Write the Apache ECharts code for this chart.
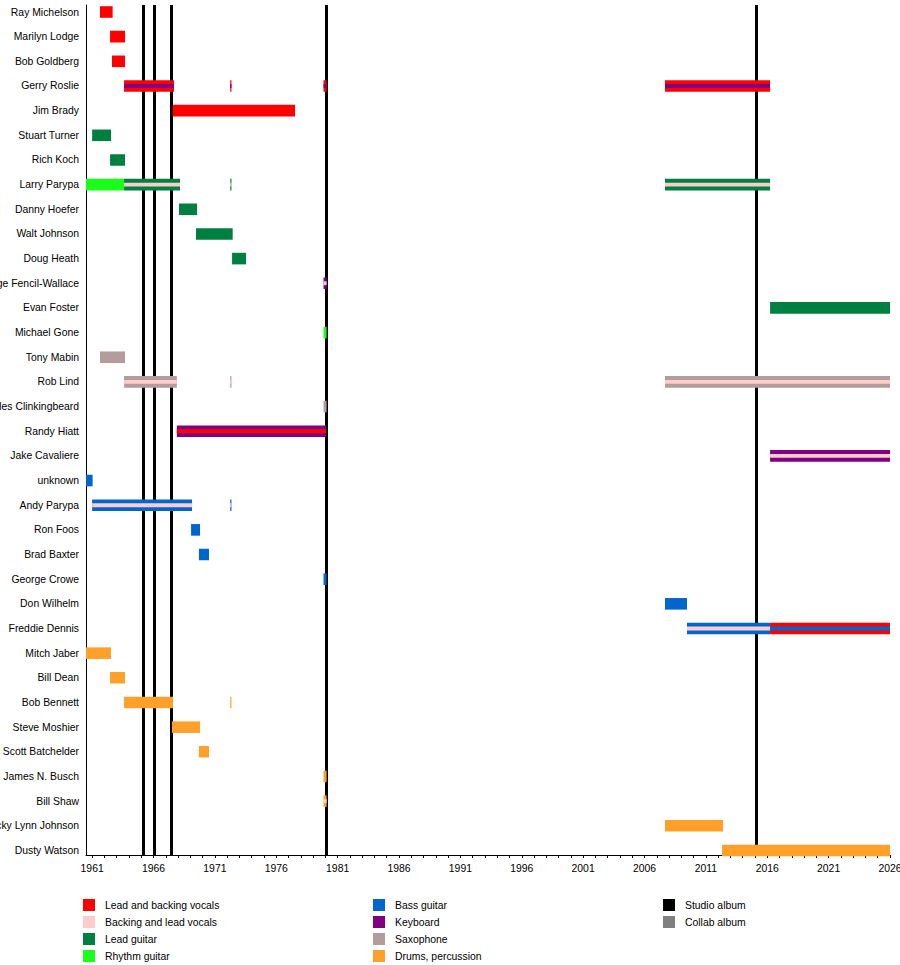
<!DOCTYPE html>
<html>
<head>
<meta charset="utf-8">
<title>The Sonics timeline</title>
<script src="https://cdn.jsdelivr.net/npm/echarts@6/dist/echarts.min.js"></script>
<style>
  html, body { margin: 0; padding: 0; background: #fff; }
  #chart { width: 900px; height: 965px; }
</style>
</head>
<body>
<div id="chart"></div>
<script>
// band members, top to bottom
var members = [
  'Ray Michelson', 'Marilyn Lodge', 'Bob Goldberg', 'Gerry Roslie', 'Jim Brady',
  'Stuart Turner', 'Rich Koch', 'Larry Parypa', 'Danny Hoefer', 'Walt Johnson',
  'Doug Heath', 'Marge Fencil-Wallace', 'Evan Foster', 'Michael Gone', 'Tony Mabin',
  'Rob Lind', 'Charles Clinkingbeard', 'Randy Hiatt', 'Jake Cavaliere', 'unknown',
  'Andy Parypa', 'Ron Foos', 'Brad Baxter', 'George Crowe', 'Don Wilhelm',
  'Freddie Dennis', 'Mitch Jaber', 'Bill Dean', 'Bob Bennett', 'Steve Moshier',
  'Scott Batchelder', 'James N. Busch', 'Bill Shaw', 'Ricky Lynn Johnson', 'Dusty Watson'
];

// roles (legend order)
var roles = [
  'Lead and backing vocals', 'Backing and lead vocals', 'Lead guitar', 'Rhythm guitar',
  'Bass guitar', 'Keyboard', 'Saxophone', 'Drums, percussion'
];
var albumTypes = ['Studio album', 'Collab album'];

// [member, from, till, role, second role (-1 = none)]
var tenures = [
  [0, 1961.64, 1962.67, 0, -1],
  [1, 1962.46, 1963.68, 0, -1],
  [2, 1962.62, 1963.68, 0, -1],
  [3, 1963.60, 1967.67, 0, 5],
  [3, 1972.25, 1972.35, 0, 5],
  [3, 1979.85, 1980.10, 0, 5],
  [3, 2007.67, 2016.23, 0, 5],
  [4, 1967.56, 1977.53, 0, -1],
  [5, 1961.00, 1962.54, 2, -1],
  [6, 1962.46, 1963.68, 2, -1],
  [7, 1960.50, 1963.60, 3, -1],
  [7, 1963.60, 1968.16, 2, 1],
  [7, 1972.25, 1972.35, 2, 1],
  [7, 2007.67, 2016.23, 2, 1],
  [8, 1968.08, 1969.55, 2, -1],
  [9, 1969.46, 1972.45, 2, -1],
  [10, 1972.40, 1973.54, 2, -1],
  [11, 1979.85, 1980.10, 5, 1],
  [12, 2016.23, 2026.00, 2, -1],
  [13, 1979.85, 1980.10, 3, -1],
  [14, 1961.64, 1963.68, 6, -1],
  [15, 1963.60, 1967.90, 6, 1],
  [15, 1972.25, 1972.35, 6, 1],
  [15, 2007.67, 2026.00, 6, 1],
  [16, 1979.85, 1980.10, 6, -1],
  [17, 1967.90, 1980.05, 5, 0],
  [18, 2016.23, 2026.00, 5, 1],
  [19, 1960.50, 1961.04, 4, -1],
  [20, 1961.00, 1969.14, 4, 1],
  [20, 1972.25, 1972.35, 4, 1],
  [21, 1969.06, 1969.79, 4, -1],
  [22, 1969.70, 1970.52, 4, -1],
  [23, 1979.85, 1980.10, 4, -1],
  [24, 2007.67, 2009.46, 4, -1],
  [25, 2009.46, 2016.23, 4, 1],
  [25, 2016.23, 2026.00, 0, 4],
  [26, 1960.50, 1962.54, 7, -1],
  [27, 1962.46, 1963.68, 7, -1],
  [28, 1963.60, 1967.59, 7, -1],
  [28, 1972.25, 1972.35, 7, -1],
  [29, 1967.50, 1969.79, 7, -1],
  [30, 1969.70, 1970.52, 7, -1],
  [31, 1979.85, 1980.10, 7, -1],
  [32, 1979.85, 1980.10, 7, 1],
  [33, 2007.67, 2012.40, 7, -1],
  [34, 2012.32, 2026.00, 7, -1]
];

// studio album release dates
var studioAlbums = [1965.17, 1966.07, 1967.48, 1980.11, 2015.14];

// axis
var yearMin = 1960.5, yearMax = 2026;
var yearTicks = [];
for (var y = 1961; y <= 2026; y++) yearTicks.push(y);
var yearLabels = [1961, 1966, 1971, 1976, 1981, 1986, 1991, 1996, 2001, 2006, 2011, 2016, 2021, 2026];

var roleColors = ['#ff0000', '#ffcccc', '#008040', '#1aff1a', '#0066cc', '#800080', '#b39c9e', '#ffa02a'];
var albumColors = ['#000000', '#808080'];

var FONT = '"Liberation Sans", Arial, sans-serif';
var rowH = 24.66;

var chart = echarts.init(document.getElementById('chart'), null, { renderer: 'svg' });

var series = [];

// album lines (drawn first, bars on top)
series.push({
  type: 'line', name: albumTypes[0], xAxisIndex: 1, yAxisIndex: 1, data: [],
  itemStyle: { color: albumColors[0] }, lineStyle: { color: albumColors[0] },
  z: 1,
  markLine: {
    silent: true, symbol: ['none', 'none'], animation: false,
    label: { show: false },
    lineStyle: { color: albumColors[0], width: 3, type: 'solid' },
    data: studioAlbums.map(function (d) { return { xAxis: d }; })
  }
});
series.push({
  type: 'line', name: albumTypes[1], xAxisIndex: 1, yAxisIndex: 1, data: [],
  itemStyle: { color: albumColors[1] }, lineStyle: { color: albumColors[1] }
});

// legend-only entries for roles
roles.forEach(function (r, i) {
  series.push({
    type: 'line', name: r, xAxisIndex: 1, yAxisIndex: 1, data: [],
    itemStyle: { color: roleColors[i] }, lineStyle: { color: roleColors[i] }
  });
});

// member bars
series.push({
  type: 'custom', name: 'tenures', xAxisIndex: 0, yAxisIndex: 0, z: 5,
  silent: true, animation: false,
  encode: { x: [1, 2], y: 0 },
  data: tenures,
  renderItem: function (params, api) {
    var row = api.value(0);
    var p0 = api.coord([api.value(1), row]);
    var p1 = api.coord([api.value(2), row]);
    var band = api.size([0, 1])[1];
    var h = band * 0.47;
    var w = Math.max(p1[0] - p0[0], 1);
    var main = api.value(3), second = api.value(4);
    var children = [{
      type: 'rect',
      shape: { x: p0[0], y: p0[1] - h / 2, width: w, height: h },
      style: { fill: roleColors[main] }
    }];
    if (second >= 0) {
      var sh = h / 3;
      children.push({
        type: 'rect',
        shape: { x: p0[0], y: p0[1] - sh / 2, width: w, height: sh },
        style: { fill: roleColors[second] }
      });
    }
    return { type: 'group', children: children };
  }
});

function legendBlock(left, names) {
  return {
    orient: 'vertical', left: left, top: 899, padding: 0,
    itemWidth: 12, itemHeight: 12, itemGap: 5, icon: 'rect',
    selectedMode: false,
    textStyle: { fontFamily: FONT, fontSize: 10.4, color: '#000', padding: [0, 0, 0, 5] },
    data: names
  };
}

chart.setOption({
  backgroundColor: '#fff',
  animation: false,
  textStyle: { fontFamily: FONT },
  grid: [
    { left: 86, right: 10, top: 12 - rowH / 2, height: rowH * members.length, outerBoundsMode: 'none' },
    { left: 86, right: 10, top: 5, height: 850, outerBoundsMode: 'none' }
  ],
  xAxis: [
    { type: 'value', gridIndex: 0, min: yearMin, max: yearMax, show: false },
    {
      type: 'value', gridIndex: 1, min: yearMin, max: yearMax, position: 'bottom',
      axisLine: { show: true, lineStyle: { color: '#000', width: 1 } },
      axisTick: { show: true, length: 3, inside: false, customValues: yearTicks, lineStyle: { color: '#000' } },
      axisLabel: {
        show: true, customValues: yearLabels, margin: 8, fontSize: 10.4, color: '#000', fontFamily: FONT,
        formatter: function (v) { return String(Math.round(v)); }
      },
      splitLine: { show: false }
    }
  ],
  yAxis: [
    {
      type: 'category', gridIndex: 0, data: members, inverse: true,
      axisLine: { show: false }, axisTick: { show: false },
      axisLabel: { interval: 0, margin: 7, fontSize: 10.4, color: '#000', fontFamily: FONT },
      splitLine: { show: false }
    },
    {
      type: 'value', gridIndex: 1, min: 0, max: 1,
      axisLine: { show: true, lineStyle: { color: '#000', width: 1 } },
      axisTick: { show: false }, axisLabel: { show: false }, splitLine: { show: false }
    }
  ],
  legend: [
    legendBlock(83, roles.slice(0, 4)),
    legendBlock(373, roles.slice(4, 8)),
    legendBlock(663, albumTypes)
  ],
  series: series
});
</script>
</body>
</html>
